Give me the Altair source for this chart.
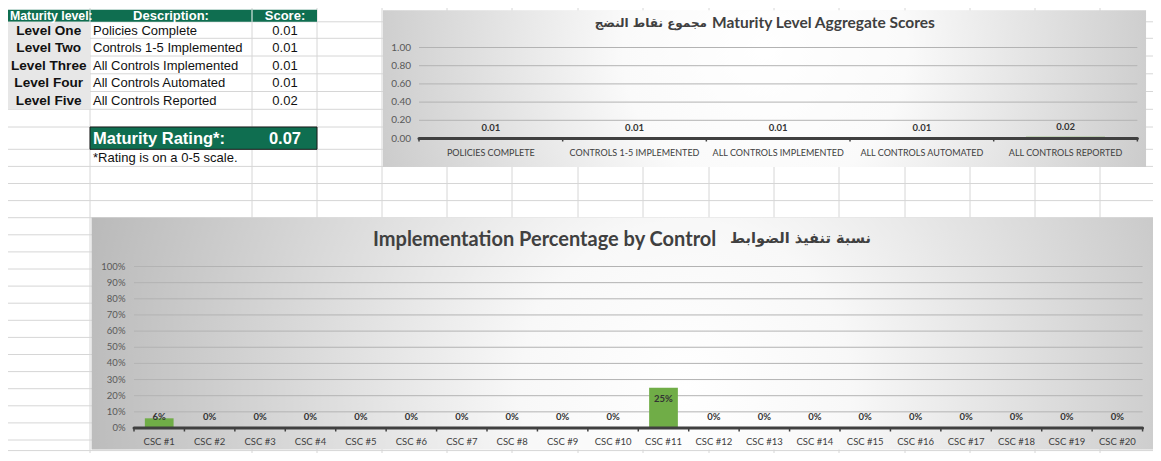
import altair as alt
import numpy as np
import pandas as pd

# ---------------- data ----------------
table_headers = ["Maturity level:", "Description:", "Score:"]
levels = ["Level One", "Level Two", "Level Three", "Level Four", "Level Five"]
descriptions = ["Policies Complete", "Controls 1-5 Implemented", "All Controls Implemented",
                "All Controls Automated", "All Controls Reported"]
level_scores = [0.01, 0.01, 0.01, 0.01, 0.02]
rating_label = ["Maturity Rating*:"]
rating_value = [0.07]
footnote = ["*Rating is on a 0-5 scale."]

agg_title_ar = ["مجموع نقاط النضج"]
agg_title_en = ["Maturity Level Aggregate Scores"]
agg_categories = ["POLICIES COMPLETE", "CONTROLS 1-5 IMPLEMENTED", "ALL CONTROLS IMPLEMENTED",
                  "ALL CONTROLS AUTOMATED", "ALL CONTROLS REPORTED"]
agg_scores = [0.01, 0.01, 0.01, 0.01, 0.02]
agg_ticks = [0.0, 0.2, 0.4, 0.6, 0.8, 1.0]

impl_title_en = ["Implementation Percentage by Control"]
impl_title_ar = ["نسبة تنفيذ الضوابط"]
controls = ["CSC #1", "CSC #2", "CSC #3", "CSC #4", "CSC #5", "CSC #6", "CSC #7", "CSC #8",
            "CSC #9", "CSC #10", "CSC #11", "CSC #12", "CSC #13", "CSC #14", "CSC #15",
            "CSC #16", "CSC #17", "CSC #18", "CSC #19", "CSC #20"]
impl_pct = [0.06, 0, 0, 0, 0, 0, 0, 0, 0, 0, 0.25, 0, 0, 0, 0, 0, 0, 0, 0, 0]
impl_ticks = [0.0, 0.1, 0.2, 0.3, 0.4, 0.5, 0.6, 0.7, 0.8, 0.9, 1.0]

# ---------------- layout (sheet pixel units, mapped piecewise onto the canvas) ----------------
W, H = 1145, 445
XD, XR = [0, 60, 1100, 1161], [0, 52, 1092, 1145]
YDm, YR = [0, 24, 440, 461], [0, 16, 432, 445]


def sx(v):
    return float(np.interp(v, XD, XR))


def sy(v):
    return float(np.interp(v, YDm, YR))


XS = alt.Scale(domain=XD, range=XR, nice=False, zero=False)
YS = alt.Scale(domain=YDm, range=YR, nice=False, zero=False)


def xd(v):
    return alt.XDatum(v, type="quantitative", scale=XS)


def yd(v):
    return alt.YDatum(v, type="quantitative", scale=YS)


ARIAL = "Liberation Sans, Arial"
CAL = "Lato, DejaVu Sans"
ARAB = "DejaVu Sans"
GREEN = "#0f6e50"
BAR = "#70ad47"
TXT = "#404040"

ROWS = [20.7, 38.3, 56.0, 73.8, 91.5, 109.3, 127.0, 149.3, 166.4, 183.5, 200.6, 217.7, 234.8,
        251.9, 269.0, 286.1, 303.2, 320.3, 337.4, 354.5, 371.6, 388.7, 405.8, 422.9, 440.0, 457.1]
COLS = [90, 252, 317, 382, 447, 512, 578, 643, 709, 774, 839, 905, 970, 1035, 1100]

one = pd.DataFrame({"k": [0]})

# ---------------- spreadsheet background ----------------
grid_df = pd.DataFrame([dict(x=0, x2=1161, y=r, y2=r) for r in ROWS] +
                       [dict(x=c, x2=c, y=0, y2=461) for c in COLS])
grid = alt.Chart(grid_df).mark_rule(color="#d6d6d6", strokeWidth=1).encode(
    x=alt.X("x:Q", scale=XS, axis=None), x2="x2:Q",
    y=alt.Y("y:Q", scale=YS, axis=None), y2="y2:Q")

cells_df = pd.DataFrame([
    dict(x=0, x2=317, y=2.7, y2=20.7, fill=GREEN),
    dict(x=0, x2=90, y=20.7, y2=109.3, fill="#e7e7e7"),
])
cells = alt.Chart(cells_df).mark_rect().encode(
    x=alt.X("x:Q", scale=XS, axis=None), x2="x2:Q",
    y=alt.Y("y:Q", scale=YS, axis=None), y2="y2:Q",
    color=alt.Color("fill:N", scale=None))

sep_df = pd.DataFrame([dict(x=90, y=2.7, y2=20.7), dict(x=252, y=2.7, y2=20.7)])
seps = alt.Chart(sep_df).mark_rule(color="white", strokeWidth=1).encode(
    x=alt.X("x:Q", scale=XS, axis=None),
    y=alt.Y("y:Q", scale=YS, axis=None), y2="y2:Q")

rating_box = alt.Chart(one).mark_rect(fill=GREEN, stroke="#1a1a1a", strokeWidth=1).encode(
    x=xd(90), x2=alt.X2Datum(317), y=yd(127), y2=alt.Y2Datum(149.3))

# ---------------- table text ----------------
YL = alt.Scale(type="point", domain=levels, range=[sy(20.7), sy(109.3)], padding=0.5)
table_df = pd.DataFrame({"level": levels, "desc": descriptions, "score": level_scores})

hdr_df = pd.DataFrame({"h": table_headers})
hdr_x = [50, 171, 285]
hdr_size = [12.3, 13, 13]
hdr_layers = []
for i, hx in enumerate(hdr_x):
    hdr_layers.append(
        alt.Chart(hdr_df).transform_filter(alt.datum.h == table_headers[i]).mark_text(
            font=ARIAL, fontSize=hdr_size[i], fontWeight="bold", color="white",
            baseline="middle").encode(x=xd(hx), y=yd(11.7), text="h:N"))

lvl_text = alt.Chart(table_df).mark_text(font=ARIAL, fontSize=13.6, fontWeight="bold",
                                         color="#111", baseline="middle").encode(
    x=xd(47), y=alt.Y("level:N", scale=YL, axis=None), text="level:N")
desc_text = alt.Chart(table_df).mark_text(font=ARIAL, fontSize=13, color="#111",
                                          align="left", baseline="middle").encode(
    x=xd(93), y=alt.Y("level:N", scale=YL, axis=None), text="desc:N")
score_text = alt.Chart(table_df).mark_text(font=ARIAL, fontSize=13, color="#111",
                                           baseline="middle").encode(
    x=xd(285), y=alt.Y("level:N", scale=YL, axis=None), text=alt.Text("score:Q", format=".2f"))

rating_lbl = alt.Chart(pd.DataFrame({"t": rating_label})).mark_text(
    font=ARIAL, fontSize=16.5, fontWeight="bold", color="white", align="left",
    baseline="middle").encode(x=xd(93), y=yd(138.5), text="t:N")
rating_val = alt.Chart(pd.DataFrame({"v": rating_value})).mark_text(
    font=ARIAL, fontSize=16.5, fontWeight="bold", color="white", baseline="middle").encode(
    x=xd(285), y=yd(138.5), text=alt.Text("v:Q", format=".2f"))
foot = alt.Chart(pd.DataFrame({"t": footnote})).mark_text(
    font=ARIAL, fontSize=13, color="#111", align="left", baseline="middle").encode(
    x=xd(93), y=yd(158), text="t:N")

# ---------------- chart backgrounds ----------------
top_grad = {"gradient": "radial", "x1": 0.5, "y1": 0.45, "r1": 0, "x2": 0.5, "y2": 0.45, "r2": 0.62,
            "stops": [{"offset": 0, "color": "#ffffff"}, {"offset": 0.3, "color": "#fafafa"},
                      {"offset": 1, "color": "#bebebe"}]}
bot_grad = {"gradient": "radial", "x1": 0.56, "y1": 0.55, "r1": 0, "x2": 0.56, "y2": 0.55, "r2": 0.62,
            "stops": [{"offset": 0, "color": "#ffffff"}, {"offset": 0.25, "color": "#f8f8f8"},
                      {"offset": 1, "color": "#b4b4b4"}]}
top_bg = alt.Chart(one).mark_rect(fill=top_grad).encode(
    x=xd(383), x2=alt.X2Datum(1153), y=yd(3.5), y2=alt.Y2Datum(167))
bot_bg = alt.Chart(one).mark_rect(fill=bot_grad).encode(
    x=xd(91.5), x2=alt.X2Datum(1161), y=yd(217.5), y2=alt.Y2Datum(455.5))

# ---------------- top chart ----------------
agg_df = pd.DataFrame({"cat": agg_categories, "score": agg_scores})
agg_tick_df = pd.DataFrame({"t": agg_ticks})
XT = alt.Scale(type="band", domain=agg_categories, range=[sx(419), sx(1143)],
               paddingInner=0.45, paddingOuter=0.225)
XT0 = alt.Scale(type="band", domain=agg_categories, range=[sx(419), sx(1143)],
                paddingInner=0, paddingOuter=0)
YT = alt.Scale(domain=[0, 1], range=[sy(138.5), sy(47.5)], nice=False, zero=False)

top_grid = alt.Chart(agg_tick_df).transform_filter(alt.datum.t > 0).mark_rule(
    color="#b3b3b3", strokeWidth=1).encode(
    x=xd(419), x2=alt.X2Datum(1143), y=alt.Y("t:Q", scale=YT, axis=None))
top_ylab = alt.Chart(agg_tick_df).mark_text(font=CAL, fontSize=10, color="#595959",
                                            align="right", baseline="middle").encode(
    x=xd(411), y=alt.Y("t:Q", scale=YT, axis=None), text=alt.Text("t:Q", format=".2f"))
top_bars = alt.Chart(agg_df).mark_bar(color=BAR).encode(
    x=alt.X("cat:N", scale=XT, axis=None), y=alt.Y("score:Q", scale=YT, axis=None))
top_axis = alt.Chart(one).mark_rule(color="#404040", strokeWidth=3, strokeCap="round").encode(
    x=xd(419), x2=alt.X2Datum(1143), y=yd(138.5))
top_ticks = alt.Chart(agg_df).mark_rule(color="#404040", strokeWidth=1.5).encode(
    x=alt.X("cat:N", scale=XT0, axis=None, bandPosition=0), y=yd(138.5), y2=alt.Y2Datum(141.5))
top_ticks_end = alt.Chart(agg_df).transform_filter(
    alt.datum.cat == agg_categories[-1]).mark_rule(color="#404040", strokeWidth=1.5).encode(
    x=alt.X("cat:N", scale=XT0, axis=None, bandPosition=1), y=yd(138.5), y2=alt.Y2Datum(141.5))
top_vals = alt.Chart(agg_df).mark_text(font=CAL, fontSize=9.5, fontWeight="bold", color="#333333",
                                       baseline="middle", dy=-10).encode(
    x=alt.X("cat:N", scale=XT, axis=None), y=alt.Y("score:Q", scale=YT, axis=None),
    text=alt.Text("score:Q", format=".2f"))
top_cats = alt.Chart(agg_df).mark_text(font=CAL, fontSize=9, color="#404040",
                                       baseline="middle").encode(
    x=alt.X("cat:N", scale=XT, axis=None), y=yd(152.5), text="cat:N")
top_title_en = alt.Chart(pd.DataFrame({"t": agg_title_en})).mark_text(
    font=CAL, fontSize=15.5, fontWeight="bold", color=TXT, baseline="middle", align="left").encode(
    x=xd(712), y=yd(22), text="t:N")
top_title_ar = alt.Chart(pd.DataFrame({"t": agg_title_ar})).mark_text(
    font=ARAB, fontSize=12, fontWeight="bold", color=TXT, baseline="middle", align="right").encode(
    x=xd(707), y=yd(22), text="t:N")

# ---------------- bottom chart ----------------
impl_df = pd.DataFrame({"control": controls, "pct": impl_pct})
impl_tick_df = pd.DataFrame({"t": impl_ticks})
XB = alt.Scale(type="band", domain=controls, range=[sx(134), sx(1149)],
               paddingInner=0.43, paddingOuter=0.215)
XB0 = alt.Scale(type="band", domain=controls, range=[sx(134), sx(1149)],
                paddingInner=0, paddingOuter=0)
YB = alt.Scale(domain=[0, 1], range=[sy(428), sy(266.5)], nice=False, zero=False)

bot_grid = alt.Chart(impl_tick_df).transform_filter(alt.datum.t > 0).mark_rule(
    color="#b3b3b3", strokeWidth=1).encode(
    x=xd(134), x2=alt.X2Datum(1149), y=alt.Y("t:Q", scale=YB, axis=None))
bot_ylab = alt.Chart(impl_tick_df).mark_text(font=CAL, fontSize=9.5, color="#595959",
                                             align="right", baseline="middle").encode(
    x=xd(125.5), y=alt.Y("t:Q", scale=YB, axis=None), text=alt.Text("t:Q", format=".0%"))
bot_bars = alt.Chart(impl_df).mark_bar(color=BAR).encode(
    x=alt.X("control:N", scale=XB, axis=None), y=alt.Y("pct:Q", scale=YB, axis=None))
bot_axis = alt.Chart(one).mark_rule(color="#404040", strokeWidth=3, strokeCap="round").encode(
    x=xd(134), x2=alt.X2Datum(1149), y=yd(428))
bot_ticks = alt.Chart(impl_df).mark_rule(color="#404040", strokeWidth=1.5).encode(
    x=alt.X("control:N", scale=XB0, axis=None, bandPosition=0), y=yd(428), y2=alt.Y2Datum(431.5))
bot_ticks_end = alt.Chart(impl_df).transform_filter(
    alt.datum.control == controls[-1]).mark_rule(color="#404040", strokeWidth=1.5).encode(
    x=alt.X("control:N", scale=XB0, axis=None, bandPosition=1), y=yd(428), y2=alt.Y2Datum(431.5))
bot_vals = alt.Chart(impl_df).transform_calculate(
    ly="max(datum.pct - 0.07, 0.07)").mark_text(
    font=CAL, fontSize=9.5, fontWeight="bold", color="#333333", baseline="middle").encode(
    x=alt.X("control:N", scale=XB, axis=None), y=alt.Y("ly:Q", scale=YB, axis=None),
    text=alt.Text("pct:Q", format=".0%"))
bot_cats = alt.Chart(impl_df).mark_text(font=CAL, fontSize=9.5, color="#404040",
                                        baseline="middle").encode(
    x=alt.X("control:N", scale=XB, axis=None), y=yd(443), text="control:N")
bot_title_en = alt.Chart(pd.DataFrame({"t": impl_title_en})).mark_text(
    font=CAL, fontSize=20, fontWeight="bold", color=TXT, baseline="middle", align="left").encode(
    x=xd(373), y=yd(240), text="t:N")
bot_title_ar = alt.Chart(pd.DataFrame({"t": impl_title_ar})).mark_text(
    font=ARAB, fontSize=14.5, fontWeight="bold", color=TXT, baseline="middle", align="left").encode(
    x=xd(730), y=yd(239), text="t:N")

layers = ([grid, cells, seps, rating_box] + hdr_layers +
          [lvl_text, desc_text, score_text, rating_lbl, rating_val, foot,
           top_bg, top_grid, top_bars, top_axis, top_ticks, top_ticks_end, top_ylab, top_vals,
           top_cats, top_title_en, top_title_ar,
           bot_bg, bot_grid, bot_bars, bot_axis, bot_ticks, bot_ticks_end, bot_ylab, bot_vals,
           bot_cats, bot_title_en, bot_title_ar])

chart = alt.layer(*layers).resolve_scale(x="independent", y="independent").properties(
    width=W, height=H, padding=0, autosize=alt.AutoSizeParams(type="none"),
    background="white"
).configure_view(stroke=None).configure_axis(disable=True)

chart.save("out.html", embed_options={"renderer": "svg", "actions": False})
